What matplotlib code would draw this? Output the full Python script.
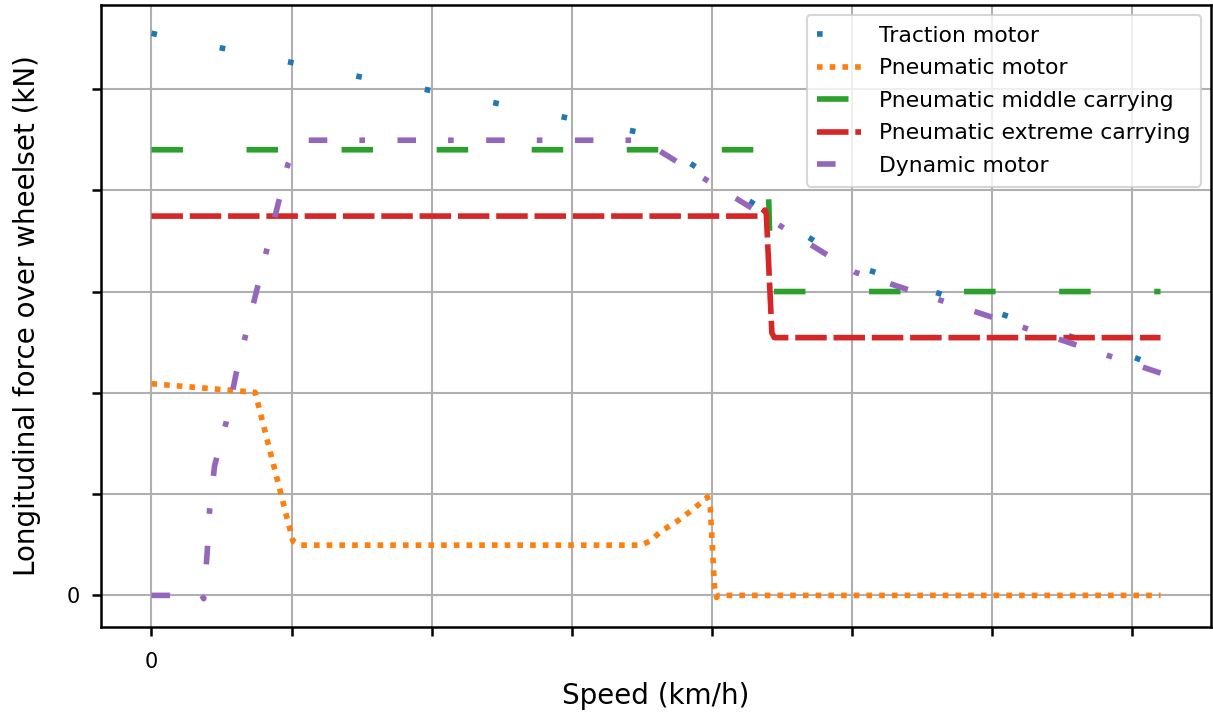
import matplotlib
matplotlib.use("Agg")
import matplotlib.pyplot as plt

# Speed (km/h) and longitudinal force over wheelset (kN) per curve
traction_speed = [0, 10.3, 20.1, 29.8, 39.5, 49.2, 59.0, 69.8, 77.3, 85.7, 94.2,
                  100.3, 112.3, 121.7, 131.1, 140.7, 144.1]
traction_force = [55.5, 54.0, 52.6, 51.2, 49.9, 48.6, 47.2, 45.7, 42.5, 38.8, 35.2,
                  32.6, 29.85, 27.7, 25.6, 23.4, 22.5]

pneu_motor_speed = [0, 14.8, 20.2, 21.2, 69.9, 71.2, 72.8, 75.1, 77.3, 79.4,
                    79.8, 80.4, 80.7, 81.0, 144.1]
pneu_motor_force = [20.9, 20.05, 5.36, 4.96, 4.96, 5.36, 6.34, 7.33, 8.48, 9.7,
                    8.65, 0.9, -0.2, 0.0, 0.0]

middle_speed = [0, 87.95, 88.5, 144.1]
middle_force = [44.0, 44.0, 30.0, 30.0]

extreme_speed = [0, 87.0, 87.6, 87.8, 88.6, 88.95, 144.1]
extreme_force = [37.45, 37.45, 38.05, 37.7, 25.9, 25.45, 25.45]

dynamic_speed = [0, 7.2, 7.46, 7.94, 8.31, 9.02, 10.65, 12.12, 19.49, 20.6, 21.77,
                 70.1, 100.5, 117.9, 130.0, 144.1]
dynamic_force = [0, 0, -0.33, 4.04, 8.48, 12.82, 17.03, 21.99, 42.57, 44.2, 44.94,
                 44.94, 31.9, 27.95, 25.2, 21.95]

x_ticks = [0, 20, 40, 60, 80, 100, 120, 140]
x_tick_labels = ["0", "", "", "", "", "", "", ""]
y_ticks = [0, 10, 20, 30, 40, 50]
y_tick_labels = ["0", "", "", "", "", ""]

series_labels = ["Traction motor", "Pneumatic motor", "Pneumatic middle carrying",
                 "Pneumatic extreme carrying", "Dynamic motor"]

W, H, DPI = 1213, 713, 150
fig = plt.figure(figsize=(W / DPI, H / DPI), dpi=DPI)
ax = fig.add_axes([101 / W, 1 - 627 / H, (1211 - 101) / W, (627 - 5) / H])

lw = 2.7
ax.plot(traction_speed, traction_force, color="#1f77b4", lw=lw,
        linestyle=(0, (1, 11.4)), label=series_labels[0])
ax.plot(pneu_motor_speed, pneu_motor_force, color="#ff7f0e", lw=lw,
        linestyle=(0, (1, 1.26)), label=series_labels[1])
ax.plot(middle_speed, middle_force, color="#2ca02c", lw=lw,
        linestyle=(0, (5.6, 11.3)), label=series_labels[2])
ax.plot(extreme_speed, extreme_force, color="#d62728", lw=lw,
        linestyle=(0, (5.6, 1.21)), label=series_labels[3])
ax.plot(dynamic_speed, dynamic_force, color="#9467bd", lw=lw,
        linestyle=(0, (3.3, 5.7, 1, 5.77)), label=series_labels[4])

ax.set_xticks(x_ticks)
ax.set_xticklabels(x_tick_labels)
ax.set_yticks(y_ticks)
ax.set_yticklabels(y_tick_labels)
ax.tick_params(axis="both", labelsize=10, length=4.5, width=1.2)
ax.tick_params(axis="x", pad=7.3)
ax.tick_params(axis="y", pad=5.5)
for sp in ax.spines.values():
    sp.set_linewidth(1.2)

ax.grid(True, color="#b0b0b0", lw=1.0)
ax.set_axisbelow(True)

ax.set_xlabel("Speed (km/h)", fontsize=13.3, labelpad=4.8)
ax.set_ylabel("Longitudinal force over wheelset (kN)", fontsize=13.3, labelpad=12.5)

ax.legend(loc="upper right", fontsize=10.5, framealpha=0.8, edgecolor="0.8",
          borderpad=0.5, labelspacing=0.57, borderaxespad=0.45)

fig.savefig("out.png", dpi=DPI)
